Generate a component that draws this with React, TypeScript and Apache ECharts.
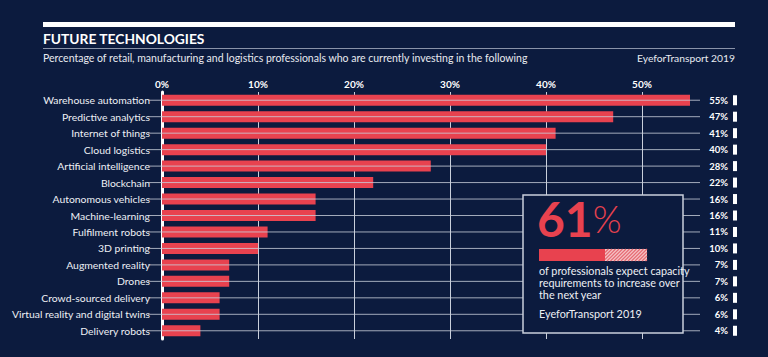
import React, { useEffect, useRef } from "react";
import * as echarts from "echarts";

const categories = [
  "Warehouse automation",
  "Predictive analytics",
  "Internet of things",
  "Cloud logistics",
  "Artificial intelligence",
  "Blockchain",
  "Autonomous vehicles",
  "Machine-learning",
  "Fulfilment robots",
  "3D printing",
  "Augmented reality",
  "Drones",
  "Crowd-sourced delivery",
  "Virtual reality and digital twins",
  "Delivery robots",
];
const values = [55, 47, 41, 40, 28, 22, 16, 16, 11, 10, 7, 7, 6, 6, 4];
const xTicks = [0, 10, 20, 30, 40, 50];

const title = "FUTURE TECHNOLOGIES";
const subtitle =
  "Percentage of retail, manufacturing and logistics professionals who are currently investing in the following";
const source = "EyeforTransport 2019";
const calloutValue = 61;
const calloutLines = [
  "of professionals expect capacity",
  "requirements to increase over",
  "the next year",
];

const BG = "#0c1b3e";
const RED = "#e8424f";
const GRID = "#c9cfdb";
const FONT = "Lato";

function hatchLines(x0: number, y0: number, w: number, h: number, step: number) {
  const out: any[] = [];
  const x1 = x0 + w;
  const y1 = y0 + h;
  for (let c = x0 - h; c < x1; c += step) {
    let ax = c, ay = y1, bx = c + h, by = y0;
    if (ax < x0) { ay = y1 - (x0 - ax); ax = x0; }
    if (bx > x1) { by = y0 + (bx - x1); bx = x1; }
    if (bx <= ax) continue;
    out.push({
      type: "line",
      shape: { x1: ax, y1: ay, x2: bx, y2: by },
      style: { stroke: "#e66a73", lineWidth: 1.2 },
      z: 102,
    });
  }
  return out;
}

export default function App() {
  const ref = useRef<HTMLDivElement>(null);
  useEffect(() => {
    document.body.style.margin = "0";
    const chart = echarts.init(ref.current!, null, { renderer: "svg" });
    const boxX = 523, boxY = 195, boxW = 160, boxH = 138;
    const barX = 539, barY = 249, barH = 12;
    const redW = 66, hatchW = 42;
    chart.setOption({
      animation: false,
      backgroundColor: BG,
      textStyle: { fontFamily: FONT },
      grid: { left: 162, right: 30, top: 92, bottom: 18, containLabel: false },
      xAxis: {
        type: "value",
        position: "top",
        min: 0,
        max: 60,
        interval: 10,
        axisLine: { show: false },
        axisTick: { show: false },
        axisLabel: {
          color: "#ffffff",
          fontSize: 10,
          fontWeight: "bold",
          fontFamily: FONT,
          margin: 3,
          formatter: (v: number) => (xTicks.includes(v) ? v + "%" : ""),
        },
        splitLine: {
          show: true,
          showMinLine: false,
          showMaxLine: false,
          lineStyle: { color: GRID, width: 1 },
        },
      },
      yAxis: {
        type: "category",
        data: categories,
        inverse: true,
        axisLine: { show: true, lineStyle: { color: "#ffffff", width: 3 } },
        axisTick: { show: false },
        axisLabel: { color: "#eef0f5", fontSize: 10.4, fontFamily: FONT, margin: 12 },
        splitLine: { show: false },
      },
      series: [
        {
          type: "bar",
          data: values,
          barWidth: 11,
          itemStyle: { color: RED },
          z: 2,
        },
        {
          type: "custom",
          clip: false,
          z: 3,
          data: values.map((v, i) => [v, i]),
          renderItem: (params: any, api: any) => {
            const cs = params.coordSys;
            const y = api.coord([0, api.value(1)])[1];
            const right = cs.x + cs.width;
            return {
              type: "group",
              children: [
                {
                  type: "line",
                  shape: { x1: cs.x - 14, y1: y, x2: right - 38, y2: y },
                  style: { stroke: GRID, lineWidth: 1, opacity: 0.8 },
                },
                {
                  type: "text",
                  style: {
                    x: right - 10,
                    y: y,
                    text: api.value(0) + "%",
                    align: "right",
                    verticalAlign: "middle",
                    fill: "#ffffff",
                    fontSize: 9.5,
                    fontWeight: "bold",
                    fontFamily: FONT,
                  },
                },
                {
                  type: "rect",
                  shape: { x: right - 5, y: y - 5, width: 4, height: 10 },
                  style: { fill: "#ffffff" },
                },
              ],
            };
          },
        },
      ],
      graphic: [
        { type: "rect", shape: { x: 43, y: 22, width: 692, height: 5 }, style: { fill: "#ffffff" } },
        {
          type: "text",
          x: 43,
          y: 38,
          style: { text: title, fill: "#ffffff", fontSize: 13.8, fontWeight: "bold", fontFamily: FONT, verticalAlign: "middle" },
        },
        { type: "line", shape: { x1: 43, y1: 48.5, x2: 735, y2: 48.5 }, style: { stroke: "#8a93a8", lineWidth: 1 } },
        {
          type: "text",
          x: 43,
          y: 57.5,
          style: { text: subtitle, fill: "#e8eaf0", fontSize: 10.5, fontFamily: FONT, verticalAlign: "middle" },
        },
        {
          type: "text",
          x: 735,
          y: 57.5,
          style: { text: source, fill: "#e8eaf0", fontSize: 10.3, fontFamily: FONT, align: "right", verticalAlign: "middle" },
        },
        {
          type: "rect",
          z: 100,
          shape: { x: boxX, y: boxY, width: boxW, height: boxH },
          style: { fill: BG, stroke: GRID, lineWidth: 1.5 },
        },
        {
          type: "text",
          z: 101,
          x: 537,
          y: 242,
          style: {
            text: "{a|" + calloutValue + "}{b|%}",
            verticalAlign: "bottom",
            rich: {
              a: { fontSize: 48, fontWeight: "bold", fill: RED, fontFamily: FONT },
              b: { fontSize: 37, fontWeight: 300, fill: RED, fontFamily: FONT },
            },
          },
        },
        { type: "rect", z: 101, shape: { x: barX, y: barY, width: redW, height: barH }, style: { fill: RED } },
        { type: "rect", z: 101, shape: { x: barX + redW, y: barY, width: hatchW, height: barH }, style: { fill: "#f5c4c6" } },
        ...hatchLines(barX + redW, barY, hatchW, barH, 3.5),
        ...calloutLines.map((t, i) => ({
          type: "text",
          z: 101,
          x: 539,
          y: 270.5 + i * 12,
          style: { text: t, fill: "#eef0f5", fontSize: 10.8, fontFamily: FONT, verticalAlign: "middle" },
        })),
        {
          type: "text",
          z: 101,
          x: 539,
          y: 313.5,
          style: { text: source, fill: "#eef0f5", fontSize: 10.8, fontFamily: FONT, verticalAlign: "middle" },
        },
      ],
    });
    return () => chart.dispose();
  }, []);
  return <div ref={ref} style={{ position: "fixed", left: 0, top: 0, width: 768, height: 357 }} />;
}
